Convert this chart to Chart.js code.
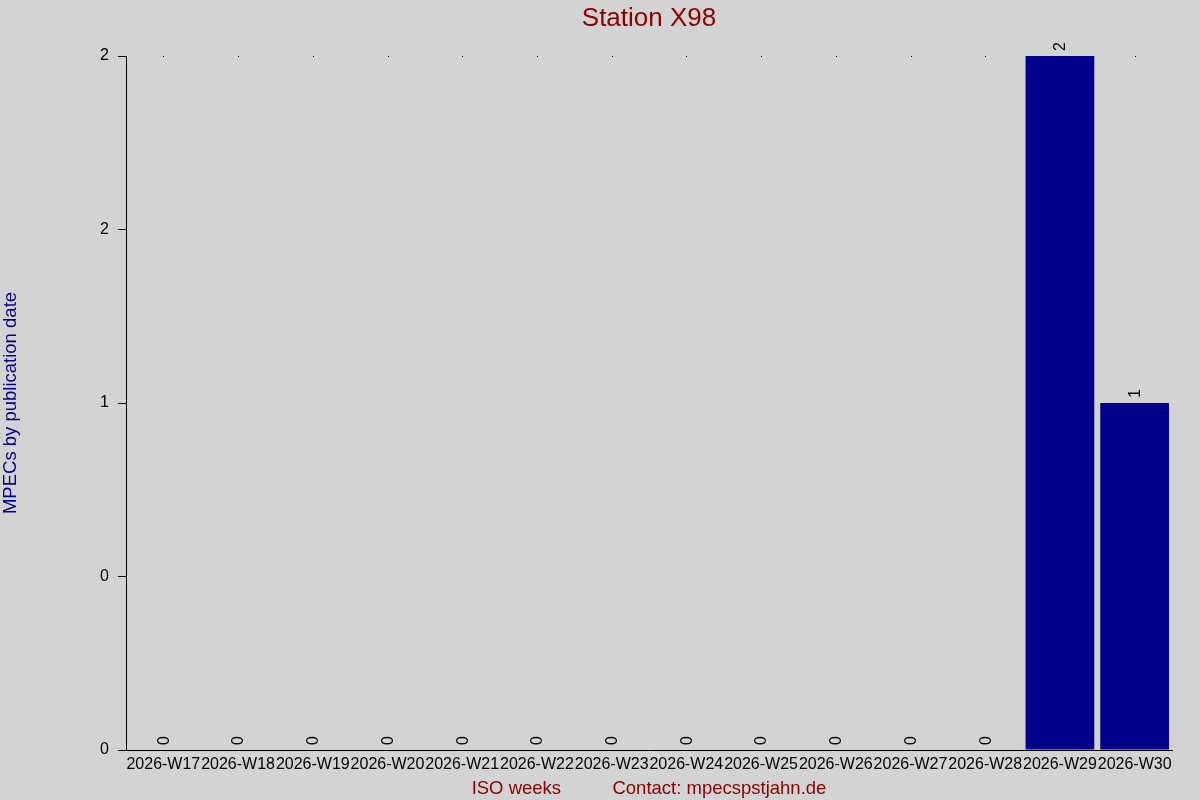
<!DOCTYPE html>
<html>
<head>
<meta charset="utf-8">
<script src="https://cdn.jsdelivr.net/npm/chart.js@4/dist/chart.umd.min.js"></script>
<style>
  html, body { margin: 0; padding: 0; background: #d3d3d3; }
  #wrap { width: 1200px; height: 800px; }
</style>
</head>
<body>
<div id="wrap"><canvas id="myChart" width="1200" height="800"></canvas></div>
<script>
const weeks = ['2026-W17', '2026-W18', '2026-W19', '2026-W20', '2026-W21', '2026-W22', '2026-W23',
    '2026-W24', '2026-W25', '2026-W26', '2026-W27', '2026-W28', '2026-W29', '2026-W30'];
const mpecCounts = [0, 0, 0, 0, 0, 0, 0, 0, 0, 0, 0, 0, 2, 1];
const yTickLabels = ['0', '0', '1', '2', '2'];
const chartTitle = 'Station X98';

const FONT = "'Liberation Sans', Arial, sans-serif";

// grey page behind everything
const background = {
    id: 'background',
    beforeDraw(chart) {
        var ctx = chart.ctx;
        ctx.save();
        ctx.fillStyle = '#d3d3d3';
        ctx.fillRect(0, 0, chart.width, chart.height);
        ctx.restore();
    }
};

// title centred over the plot area, not the whole canvas
const plotTitle = {
    id: 'plotTitle',
    afterDraw(chart) {
        var ctx = chart.ctx;
        var a = chart.chartArea;
        ctx.save();
        ctx.fillStyle = '#8b0000';
        ctx.font = '26px ' + FONT;
        ctx.textAlign = 'center';
        ctx.textBaseline = 'middle';
        ctx.fillText(chartTitle, (a.left + a.right) / 2, 19);
        ctx.restore();
    }
};

// rotated counts above bars + small tick dots along the top
const barLabels = {
    id: 'barLabels',
    afterDatasetsDraw(chart) {
        var ctx = chart.ctx;
        var meta = chart.getDatasetMeta(0);
        var xs = chart.scales.x;
        ctx.save();
        ctx.fillStyle = '#000';
        for (var i = 0; i < xs.ticks.length; i++) {
            ctx.fillRect(Math.round(xs.getPixelForTick(i)), chart.chartArea.top, 1, 1);
        }
        ctx.font = '16px ' + FONT;
        ctx.textAlign = 'left';
        ctx.textBaseline = 'middle';
        meta.data.forEach((bar, i) => {
            ctx.save();
            ctx.translate(bar.x + 1, bar.y - 5);
            ctx.rotate(-Math.PI / 2);
            ctx.fillText(String(mpecCounts[i]), 0, 0);
            ctx.restore();
        });
        ctx.restore();
    }
};

new Chart(document.getElementById('myChart'), {
    type: 'bar',
    data: {
        labels: weeks,
        datasets: [{
            data: mpecCounts,
            backgroundColor: '#00008b',
            borderWidth: 0,
            barPercentage: 0.92,
            categoryPercentage: 1.0
        }]
    },
    options: {
        responsive: false,
        animation: false,
        layout: { padding: { top: 56, right: 28, bottom: 0, left: 0 } },
        plugins: {
            legend: { display: false },
            tooltip: { enabled: false },
            title: { display: false }
        },
        scales: {
            x: {
                offset: true,
                grid: { display: false, drawTicks: false },
                border: { display: true, color: '#000', width: 1 },
                ticks: {
                    color: '#000',
                    font: { family: FONT, size: 16 },
                    autoSkip: false,
                    maxRotation: 0,
                    minRotation: 0,
                    padding: 5
                },
                title: {
                    display: true,
                    text: 'ISO weeks          Contact: mpecspstjahn.de',
                    color: '#8b0000',
                    font: { family: FONT, size: 18.5 },
                    padding: { top: 3, bottom: 0 }
                },
                afterFit(scale) { scale.height = 50; }
            },
            y: {
                min: 0,
                max: 2,
                grid: { drawOnChartArea: false, drawTicks: true, tickLength: 8, color: '#000' },
                border: { display: true, color: '#000', width: 1 },
                ticks: {
                    stepSize: 0.5,
                    color: '#000',
                    font: { family: FONT, size: 16 },
                    padding: 9,
                    callback: (v, i) => yTickLabels[i]
                },
                title: {
                    display: true,
                    text: 'MPECs by publication date',
                    color: '#00008b',
                    font: { family: FONT, size: 18.5 },
                    padding: 0
                },
                afterFit(scale) { scale.width = 126; }
            }
        }
    },
    plugins: [background, barLabels, plotTitle]
});
</script>
</body>
</html>
